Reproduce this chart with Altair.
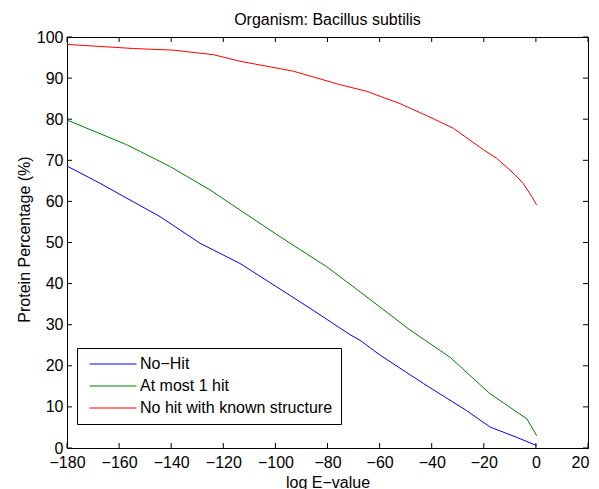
import altair as alt
import pandas as pd

# ---- data ----
series_names = ["No\u2212Hit", "At most 1 hit", "No hit with known structure"]
series_colors = ["#0000FF", "#008000", "#FF0000"]

nohit_x = [-180, -167.3, -157.1, -144.3, -128.9, -113.6, -99.5, -85.5, -71.4, -67.5,
           -59.8, -43.2, -26.6, -17.6, -7.4, 0.3]
nohit_y = [68.6, 64.4, 60.8, 56.3, 49.8, 44.9, 39.2, 33.5, 27.6, 26.2,
           22.6, 15.7, 9.1, 5.1, 2.6, 0.6]

atmost1_x = [-180, -157.1, -140.5, -125.1, -113.6, -98.2, -80.3, -67.5,
             -48.3, -33.0, -17.6, -3.5, -1.6, 0.3]
atmost1_y = [79.8, 73.8, 68.5, 62.8, 57.9, 51.4, 44.1, 38.0,
             28.7, 22.1, 13.2, 7.1, 5.1, 3.0]

known_x = [-180, -167.3, -154.5, -139.2, -123.8, -113.6, -93.2, -75.2, -65.0,
           -52.2, -42.0, -31.7, -20.2, -15.1, -8.7, -4.9, -1.6, 0.3]
known_y = [98.2, 97.7, 97.2, 96.8, 95.7, 94.1, 91.7, 88.4, 86.8,
           83.8, 80.9, 77.8, 72.6, 70.5, 66.9, 64.4, 61.2, 59.1]

x_ticks = [-180, -160, -140, -120, -100, -80, -60, -40, -20, 0, 20]
y_ticks = [0, 10, 20, 30, 40, 50, 60, 70, 80, 90, 100]

rows = []
for name, xs, ys in zip(series_names,
                        [nohit_x, atmost1_x, known_x],
                        [nohit_y, atmost1_y, known_y]):
    for i, (a, b) in enumerate(zip(xs, ys)):
        rows.append({"series": name, "logE": a, "pct": b, "order": i})
df = pd.DataFrame(rows)

W, H = 521, 411
FONT = "Liberation Sans"
TL = 5  # inner tick length

xscale = alt.Scale(domain=[-180, 20], nice=False, zero=False)
yscale = alt.Scale(domain=[0, 100], nice=False, zero=False)

xaxis = alt.Axis(values=x_ticks, title="log E\u2212value", labelOverlap=False,
                 labelFlush=False,
                 labelOffset={"condition": {"test": "datum.value >= 20", "value": -8},
                              "value": 0},
                 titleY=39, titleBaseline="alphabetic", labelPadding=6)
yaxis = alt.Axis(values=y_ticks, title="Protein Percentage (%)", labelOverlap=False,
                 labelFlush=False,
                 titleX=-38, titleY=202, titleBaseline="alphabetic",
                 labelPadding=4)

lines = alt.Chart(df).mark_line(strokeWidth=1, clip=True).encode(
    x=alt.X("logE:Q", scale=xscale, axis=xaxis),
    y=alt.Y("pct:Q", scale=yscale, axis=yaxis),
    color=alt.Color("series:N",
                    scale=alt.Scale(domain=series_names, range=series_colors),
                    legend=alt.Legend(title=None, orient="none",
                                      legendX=10, legendY=311,
                                      fillColor="white", strokeColor="black",
                                      padding=8,
                                      symbolType="M-5,0H5",
                                      symbolSize=88, symbolStrokeWidth=1,
                                      symbolOffset=20,
                                      labelFontSize=16, labelFont=FONT,
                                      labelColor="black", labelOffset=19,
                                      labelLimit=400,
                                      rowPadding=6, cornerRadius=0)),
    order="order:Q",
)

xt = pd.DataFrame({"logE": x_ticks})
yt = pd.DataFrame({"pct": y_ticks})

xt_bottom = alt.Chart(xt).mark_rule(color="black", strokeWidth=1).encode(
    x=alt.X("logE:Q", scale=xscale, axis=xaxis),
    y=alt.value(H), y2=alt.value(H - TL))
xt_top = alt.Chart(xt).mark_rule(color="black", strokeWidth=1).encode(
    x=alt.X("logE:Q", scale=xscale, axis=xaxis),
    y=alt.value(0), y2=alt.value(TL))
yt_left = alt.Chart(yt).mark_rule(color="black", strokeWidth=1).encode(
    y=alt.Y("pct:Q", scale=yscale, axis=yaxis),
    x=alt.value(0), x2=alt.value(TL))
yt_right = alt.Chart(yt).mark_rule(color="black", strokeWidth=1).encode(
    y=alt.Y("pct:Q", scale=yscale, axis=yaxis),
    x=alt.value(W), x2=alt.value(W - TL))

chart = alt.layer(lines, xt_bottom, xt_top, yt_left, yt_right).properties(
    width=W, height=H, background="white",
    title=alt.TitleParams("Organism: Bacillus subtilis", font=FONT, fontSize=16,
                          fontWeight="normal", color="black", frame="group",
                          offset=1, anchor="middle"),
    autosize=alt.AutoSizeParams(type="none"),
    padding={"left": 59, "top": 29, "right": 3, "bottom": 41},
).configure_view(stroke="black", strokeWidth=1).configure_axis(
    domainColor="black", domainWidth=1, ticks=False, tickSize=0, grid=False,
    labelFont=FONT, labelFontSize=16, labelColor="black",
    titleFont=FONT, titleFontSize=16, titleFontWeight="normal", titleColor="black",
)

chart.save("out.html", embed_options={"renderer": "svg", "actions": False})
